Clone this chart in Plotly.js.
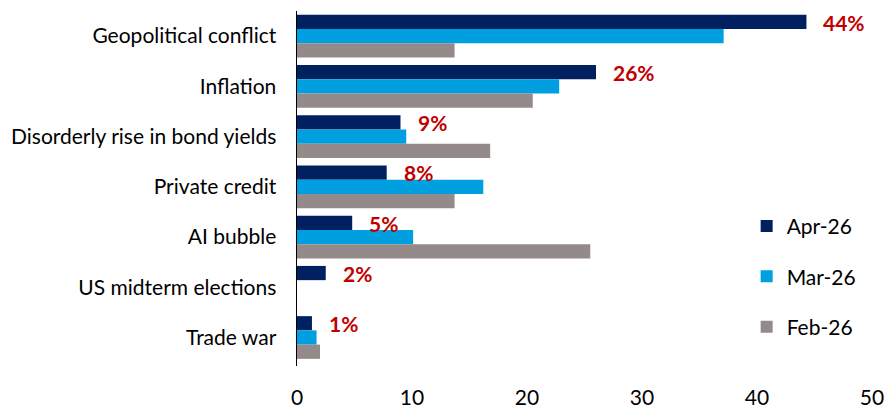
<!DOCTYPE html>
<html>
<head>
<meta charset="utf-8">
<script src="https://cdn.plot.ly/plotly-3.0.1.min.js"></script>
<style>html,body{margin:0;padding:0;background:#fff;}#chart{width:887px;height:408px;}</style>
</head>
<body>
<div id="chart"></div>
<script>
const categories = ["Geopolitical conflict", "Inflation", "Disorderly rise in bond yields", "Private credit", "AI bubble", "US midterm elections", "Trade war"];
const apr26 = [44.3, 26.0, 9.0, 7.8, 4.8, 2.5, 1.3];
const mar26 = [37.1, 22.8, 9.5, 16.2, 10.1, 0, 1.7];
const feb26 = [13.7, 20.5, 16.8, 13.7, 25.5, 0, 2.0];
const aprLabels = ["44%", "26%", "9%", "8%", "5%", "2%", "1%"];
const seriesNames = ["Apr-26", "Mar-26", "Feb-26"];
const xTicks = [0, 10, 20, 30, 40, 50];

const FONT = "Lato, 'Open Sans', sans-serif";
const colors = ["#002060", "#009FDF", "#948A8A"];
const data = [apr26, mar26, feb26].map((vals, i) => ({
  type: "bar",
  orientation: "h",
  name: seriesNames[i],
  x: vals,
  y: categories,
  marker: {color: colors[i]},
  legendgroup: "g" + i,
  hoverinfo: "x+y"
}));

const annotations = categories.map((c, i) => ({
  x: apr26[i], y: c, xref: "x", yref: "y",
  text: aprLabels[i], showarrow: false,
  xanchor: "left", yanchor: "middle",
  xshift: 15, yshift: 14,
  font: {family: FONT, size: 21, color: "#C00000", weight: "bold"}
}));

const layout = {
  width: 887, height: 408,
  margin: {l: 297, r: 15, t: 11, b: 42},
  paper_bgcolor: "#fff", plot_bgcolor: "#fff",
  barmode: "group",
  bargap: 0.15,
  bargroupgap: 0,
  font: {family: FONT, size: 21, color: "#000"},
  xaxis: {
    range: [0, 50], tickvals: xTicks, showgrid: false, zeroline: false,
    showline: false, ticks: "", ticklabelstandoff: 17,
    tickfont: {family: FONT, size: 21, color: "#000"}, fixedrange: true
  },
  yaxis: {
    autorange: "reversed", showgrid: false, zeroline: false,
    showline: true, linecolor: "#000", linewidth: 1.5, ticks: "",
    ticklabelstandoff: 15,
    tickfont: {family: FONT, size: 21, color: "#000"}, fixedrange: true
  },
  legend: {
    x: 0.782, xanchor: "left", y: 0.451, yanchor: "top",
    xref: "paper", yref: "paper",
    traceorder: "grouped", tracegroupgap: 20,
    font: {family: FONT, size: 21, color: "#000"},
    bgcolor: "rgba(0,0,0,0)"
  },
  showlegend: true,
  annotations: annotations
};

Plotly.newPlot("chart", data, layout, {displayModeBar: false, staticPlot: true});
</script>
</body>
</html>
